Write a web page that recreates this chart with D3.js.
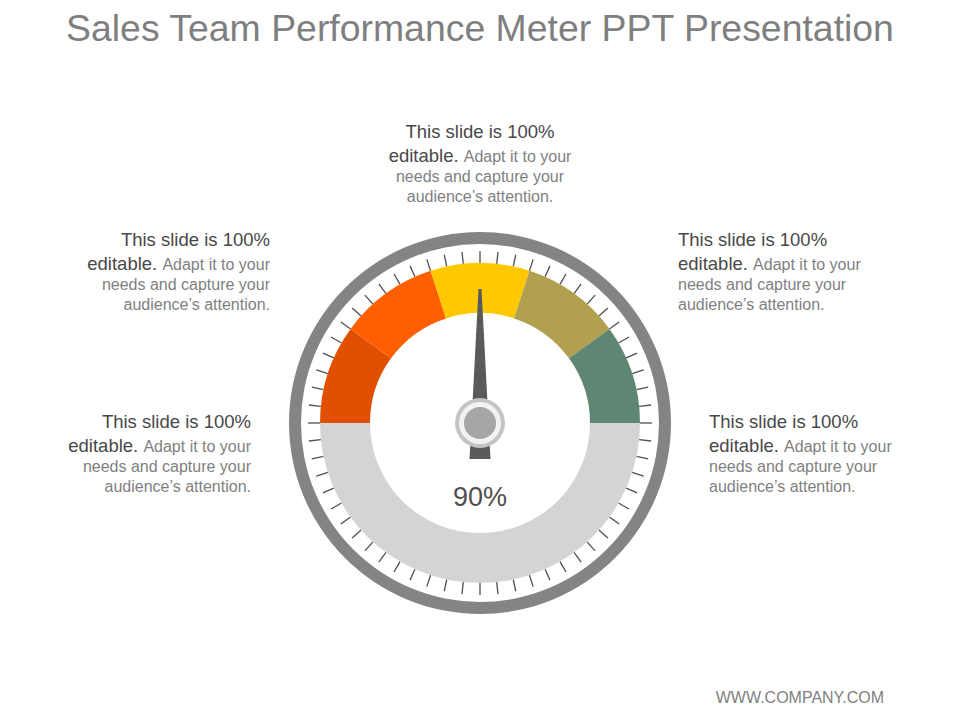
<!DOCTYPE html>
<html>
<head>
<meta charset="utf-8">
<script src="https://cdnjs.cloudflare.com/ajax/libs/d3/7.8.5/d3.min.js"></script>
<style>
  html, body { margin: 0; padding: 0; background: #fff; }
  text { font-family: "Liberation Sans", Arial, sans-serif; }
</style>
</head>
<body>
<div id="main"></div>
<script>
// gauge data
var segments = [20, 20, 20, 20, 20, 100];
var segment_names = ["red", "orange", "yellow", "olive", "green", "rest"];
var segment_colors = ["#e05000", "#ff5f00", "#ffc800", "#b0a04f", "#5e8673", "#d4d4d4"];
var tick_values = d3.range(0, 60);
var needle_value = 90;
var value_label = "90%";

var title = "Sales Team Performance Meter PPT Presentation";
var footer = "WWW.COMPANY.COM";
var head_line = "This slide is 100%";
var bold_word = "editable.";
var tail_words = "Adapt it to your";
var body_lines = ["needs and capture your", "audience\u2019s attention."];

var svg = d3.select("#main").append("svg")
    .attr("width", 960)
    .attr("height", 720);

var cx = 480, cy = 423;
var gauge = svg.append("g").attr("transform", "translate(" + cx + "," + cy + ")");

// outer ring
gauge.append("path")
    .attr("d", d3.arc()({innerRadius: 179, outerRadius: 191, startAngle: 0, endAngle: 2 * Math.PI}))
    .attr("fill", "#848484");

// ticks, one every 6 degrees
var tick_angle = d3.scaleLinear().domain([0, 60]).range([0, 360]);
gauge.selectAll("line.tick")
    .data(tick_values)
    .enter()
    .append("line")
    .attr("class", "tick")
    .attr("x1", 0).attr("x2", 0)
    .attr("y1", -160).attr("y2", -172)
    .attr("stroke", "#505050")
    .attr("stroke-width", 1.3)
    .attr("transform", function(d) { return "rotate(" + tick_angle(d) + ")"; });

// coloured band, starts at nine o'clock
var pie = d3.pie().sort(null)
    .startAngle(-Math.PI / 2)
    .endAngle(3 * Math.PI / 2);
var band = d3.arc().innerRadius(110).outerRadius(160);

gauge.selectAll("path.segment")
    .data(pie(segments))
    .enter()
    .append("path")
    .attr("class", "segment")
    .attr("data-name", function(d, i) { return segment_names[i]; })
    .attr("d", band)
    .attr("fill", function(d, i) { return segment_colors[i]; });

// needle, 0..180 spans the upper half
var needle_angle = d3.scaleLinear().domain([0, 180]).range([-90, 90]);
var needle = gauge.append("g")
    .attr("transform", "rotate(" + needle_angle(needle_value) + ")");

needle.append("path")
    .attr("d", d3.line()([[-1.5, -134], [1.5, -134], [7.5, -20], [-7.5, -20]]))
    .attr("fill", "#5a5a5a");
needle.append("path")
    .attr("d", d3.line()([[-9.5, 18], [9.5, 18], [10.5, 36], [-10.5, 36]]))
    .attr("fill", "#5a5a5a");

// hub
var hub_radii = [25, 21, 16];
var hub_colors = ["#c4c4c4", "#f2f2f2", "#a6a6a6"];
gauge.selectAll("circle.hub")
    .data(hub_radii)
    .enter()
    .append("circle")
    .attr("class", "hub")
    .attr("r", function(d) { return d; })
    .attr("fill", function(d, i) { return hub_colors[i]; });

gauge.append("text")
    .attr("x", 0)
    .attr("y", 83)
    .attr("text-anchor", "middle")
    .attr("font-size", 27)
    .attr("fill", "#505050")
    .text(value_label);

svg.append("text")
    .attr("x", 480)
    .attr("y", 41)
    .attr("text-anchor", "middle")
    .attr("font-size", 37.4)
    .attr("fill", "#7f7f7f")
    .text(title);

svg.append("text")
    .attr("x", 884)
    .attr("y", 703)
    .attr("text-anchor", "end")
    .attr("font-size", 16)
    .attr("fill", "#7f7f7f")
    .text(footer);

// the five captions
function draw_caption(x, y, anchor){
  var g = svg.append("g").attr("text-anchor", anchor);

  g.append("text")
      .attr("x", x).attr("y", y)
      .attr("font-size", 18.5)
      .attr("fill", "#484848")
      .text(head_line);

  var second = g.append("text")
      .attr("x", x).attr("y", y + 24)
      .attr("font-size", 16)
      .attr("fill", "#7f7f7f");
  second.append("tspan")
      .attr("font-size", 18.5)
      .attr("fill", "#484848")
      .text(bold_word + " ");
  second.append("tspan").text(tail_words);

  body_lines.forEach(function(line, i){
    g.append("text")
        .attr("x", x).attr("y", y + 43.5 + i * 20)
        .attr("font-size", 16)
        .attr("fill", "#7f7f7f")
        .text(line);
  });
}

draw_caption(480, 138, "middle");
draw_caption(270, 246, "end");
draw_caption(251, 428, "end");
draw_caption(678, 246, "start");
draw_caption(709, 428, "start");
</script>
</body>
</html>
